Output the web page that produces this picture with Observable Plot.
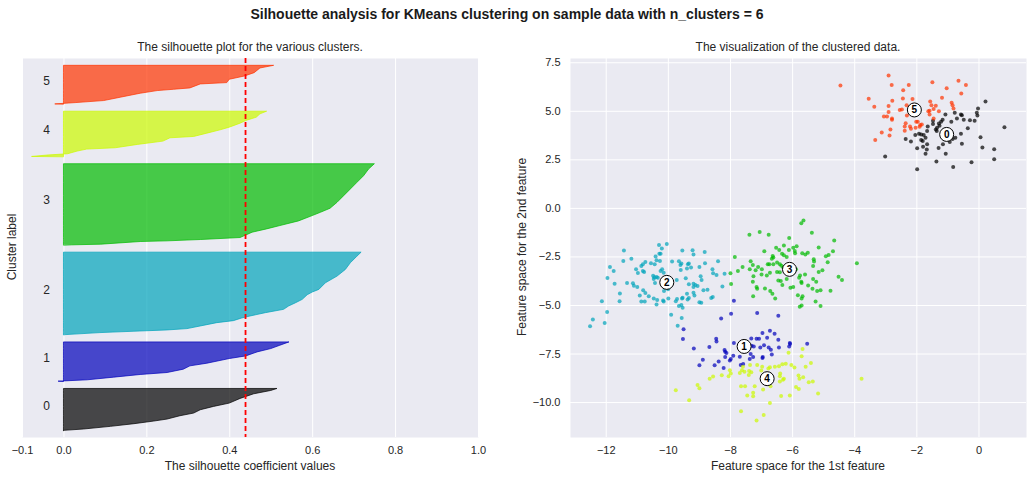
<!DOCTYPE html>
<html><head><meta charset="utf-8">
<script src="https://cdn.jsdelivr.net/npm/d3@7"></script>
<script src="https://cdn.jsdelivr.net/npm/@observablehq/plot@0.6"></script>
<style>
body{margin:0;background:#fff;font-family:"Liberation Sans",Arial,sans-serif;color:#262626}
#wrap{position:relative;width:1032px;height:478px;overflow:hidden}
.t{position:absolute;white-space:nowrap;transform:translate(-50%,-50%);line-height:1}
.r{transform:translate(-50%,-50%) rotate(-90deg)}
.p{position:absolute}
</style></head><body><div id="wrap"></div>
<script>
// ---------- data ----------
const clusterIds = [0, 1, 2, 3, 4, 5];
const clusterSizes = [64, 60, 125, 123, 69, 59];
const clusterColors = ["#000000", "#0000bb", "#00a4bb", "#00bb00", "#ccf900", "#ff3300"];
const silhouetteAvg = 0.438;

// sorted silhouette values per cluster, sampled at sample ranks within the cluster
const silRanks0 = [0,2,6,10,14,17,22,26,31,36,41,48,55,60,63];
const silVals0  = [0.0,0.048,0.113,0.17,0.218,0.25,0.281,0.314,0.33,0.362,0.40,0.426,0.459,0.50,0.515];
const silRanks1 = [0,2,6,10,13,18,23,27,34,38,44,49,54,59];
const silVals1  = [-0.012,0.057,0.121,0.185,0.25,0.289,0.305,0.346,0.40,0.44,0.467,0.50,0.522,0.544];
const silRanks2 = [0,3,5,7,9,13,18,21,25,28,33,38,43,48,53,60,64,68,78,88,98,108,118,124];
const silVals2  = [0.005,0.088,0.168,0.25,0.298,0.33,0.37,0.41,0.43,0.45,0.487,0.531,0.543,0.56,0.576,0.588,0.60,0.616,0.632,0.66,0.68,0.692,0.708,0.718];
const silRanks3 = [0,1,5,6,8,11,19,24,29,36,44,49,55,64,74,84,94,104,114,122];
const silVals3  = [0.02,0.09,0.185,0.25,0.33,0.426,0.455,0.49,0.522,0.567,0.6,0.62,0.643,0.66,0.676,0.692,0.708,0.724,0.736,0.75];
const silRanks4 = [0,2,4,8,11,13,18,23,28,30,35,40,44,50,54,59,64,68];
const silVals4  = [-0.076,-0.04,0.01,0.033,0.056,0.125,0.178,0.24,0.257,0.314,0.346,0.378,0.40,0.426,0.44,0.465,0.474,0.49];
const silRanks5 = [0,2,5,10,16,20,22,24,30,32,37,42,47,54,58];
const silVals5  = [-0.02,0.03,0.097,0.137,0.185,0.226,0.266,0.305,0.33,0.394,0.40,0.437,0.46,0.474,0.507];

const silXTicks = [-0.1, 0.0, 0.2, 0.4, 0.6, 0.8, 1.0];

// scatter points [feature1, feature2] per cluster
const pts0 = [[0.21,5.51],[-0.03,5.15],[-0.07,4.92],[-0.05,4.78],[-0.14,4.52],[-0.29,4.54],[-0.49,4.57],[-0.55,4.80],[-0.58,4.83],[-0.78,4.92],[-0.71,4.63],[-1.08,4.83],[-1.17,4.57],[-1.22,4.46],[-1.29,4.37],[-0.89,4.46],[-0.36,4.13],[-0.58,3.84],[-0.76,3.64],[-1.27,4.25],[-1.35,4.15],[-1.39,4.06],[-1.36,3.98],[-1.48,4.35],[-1.48,4.52],[-1.65,4.22],[-1.67,3.98],[-1.78,3.78],[-1.86,3.81],[-1.93,3.84],[-2.05,3.78],[-1.72,3.64],[-1.86,3.52],[-1.81,3.47],[-1.67,3.30],[-1.80,3.18],[-1.68,3.03],[-1.72,2.81],[-1.99,3.10],[-2.19,3.44],[-2.36,3.57],[-1.30,3.11],[-1.16,3.30],[-0.94,3.42],[-0.85,3.57],[-0.55,3.33],[-1.07,2.81],[0.05,3.67],[0.11,3.13],[0.49,3.04],[0.49,2.53],[0.82,4.18],[-0.24,2.38],[-0.83,2.13],[-1.37,2.42],[-1.99,2.02],[-3.02,2.67],[-1.18,3.86],[-0.91,3.98]];
const pts1 = [[-7.89,-4.76],[-7.14,-5.39],[-6.46,-5.53],[-7.98,-5.43],[-8.30,-5.67],[-9.51,-6.22],[-9.53,-6.73],[-9.18,-7.21],[-8.89,-7.79],[-9.00,-8.08],[-8.51,-8.08],[-8.38,-7.88],[-8.22,-8.22],[-8.68,-7.14],[-8.46,-6.71],[-8.45,-6.85],[-8.19,-7.29],[-8.17,-7.38],[-8.13,-7.45],[-8.17,-7.65],[-8.02,-7.83],[-7.99,-7.76],[-7.91,-7.59],[-7.70,-7.64],[-7.67,-8.07],[-7.59,-8.02],[-7.89,-6.93],[-7.35,-7.50],[-7.38,-7.76],[-7.27,-7.65],[-6.96,-7.65],[-6.97,-7.70],[-6.67,-7.53],[-6.70,-7.28],[-6.77,-7.16],[-7.04,-7.16],[-6.92,-7.05],[-7.25,-7.11],[-7.32,-7.08],[-7.33,-6.70],[-7.16,-6.71],[-7.08,-6.71],[-6.97,-6.42],[-6.82,-6.66],[-6.73,-6.30],[-6.58,-6.46],[-6.46,-6.76],[-6.44,-7.17],[-6.09,-6.93],[-6.11,-7.11],[-6.08,-6.98],[-5.53,-6.97],[-7.41,-7.11]];
const pts2 = [[-10.30,-1.88],[-10.05,-1.83],[-10.21,-2.07],[-11.43,-2.17],[-10.25,-2.33],[-10.29,-2.33],[-10.41,-2.48],[-10.38,-2.67],[-10.27,-2.71],[-9.55,-2.17],[-9.22,-2.16],[-9.19,-2.38],[-8.83,-2.24],[-11.45,-2.71],[-11.19,-2.59],[-10.74,-2.76],[-10.56,-2.83],[-10.82,-2.88],[-10.87,-2.97],[-10.44,-2.88],[-10.20,-3.14],[-10.25,-3.22],[-10.15,-3.31],[-11.04,-3.14],[-10.98,-3.33],[-10.82,-3.22],[-10.78,-3.28],[-11.88,-3.02],[-11.76,-3.22],[-11.96,-3.59],[-11.73,-3.88],[-11.33,-3.84],[-11.14,-3.86],[-11.11,-3.98],[-11.00,-4.05],[-10.49,-3.47],[-10.45,-3.55],[-10.38,-3.53],[-10.47,-3.64],[-10.34,-3.57],[-10.43,-3.84],[-10.81,-4.22],[-10.74,-4.36],[-10.63,-4.53],[-10.92,-4.48],[-10.47,-4.64],[-10.36,-4.72],[-10.17,-4.74],[-10.38,-4.95],[-10.87,-4.79],[-10.76,-4.79],[-11.56,-4.38],[-11.57,-4.78],[-12.14,-4.78],[-11.97,-5.34],[-12.43,-5.72],[-12.05,-5.90],[-12.52,-6.07],[-10.0,-4.64],[-10.14,-4.26],[-10.01,-4.17],[-9.88,-2.74],[-9.66,-2.72],[-9.61,-2.91],[-9.58,-2.84],[-9.37,-2.88],[-9.34,-2.84],[-9.60,-3.17],[-9.40,-3.09],[-9.27,-3.05],[-9.00,-3.02],[-8.82,-2.83],[-8.58,-3.14],[-8.56,-3.34],[-8.45,-3.43],[-8.40,-2.72],[-8.19,-3.36],[-9.73,-3.69],[-9.44,-3.60],[-9.34,-3.91],[-9.19,-3.88],[-9.13,-3.95],[-9.19,-4.05],[-9.06,-4.0],[-8.96,-3.50],[-8.93,-3.69],[-8.74,-4.19],[-8.87,-4.22],[-9.19,-4.34],[-9.16,-4.48],[-9.40,-4.40],[-9.34,-4.62],[-9.38,-4.69],[-9.56,-4.64],[-9.54,-4.60],[-9.72,-4.67],[-9.76,-4.78],[-9.58,-4.98],[-9.66,-5.03],[-9.54,-5.12],[-9.00,-4.84],[-8.94,-4.86],[-8.62,-4.62],[-8.57,-4.57],[-8.26,-4.02],[-9.91,-5.48],[-9.57,-5.64],[-9.70,-6.05],[-10.15,-4.79]];
const pts3 = [[-5.65,-0.62],[-5.72,-0.76],[-7.39,-1.36],[-7.06,-1.22],[-6.77,-1.36],[-6.11,-1.52],[-5.38,-1.26],[-4.66,-1.66],[-7.86,-2.5],[-6.91,-2.21],[-6.53,-2.03],[-6.43,-2.14],[-6.34,-2.33],[-6.28,-2.41],[-6.19,-2.5],[-6.12,-2.14],[-5.98,-2.03],[-5.87,-1.95],[-5.93,-2.19],[-5.92,-2.31],[-5.69,-2.31],[-5.59,-2.38],[-5.51,-2.29],[-5.16,-2.02],[-4.84,-2.40],[-4.93,-2.47],[-4.70,-2.21],[-6.64,-2.45],[-6.67,-2.59],[-6.62,-2.88],[-6.50,-2.79],[-6.75,-2.88],[-6.41,-2.88],[-6.36,-2.95],[-6.30,-3.05],[-7.35,-2.72],[-7.28,-2.91],[-7.61,-3.02],[-7.76,-3.22],[-8.0,-3.34],[-7.98,-3.90],[-7.38,-3.14],[-7.19,-3.19],[-7.11,-3.02],[-6.99,-3.14],[-6.83,-3.45],[-7.00,-3.40],[-7.26,-3.50],[-7.28,-3.78],[-7.16,-4.05],[-7.14,-4.14],[-6.89,-4.12],[-6.72,-4.26],[-6.65,-4.40],[-6.56,-4.64],[-7.27,-4.53],[-6.50,-3.28],[-6.41,-3.29],[-6.46,-3.71],[-6.38,-3.74],[-6.33,-3.95],[-6.19,-3.64],[-6.07,-4.09],[-5.98,-4.05],[-5.76,-3.45],[-5.79,-3.57],[-5.72,-3.78],[-5.71,-3.84],[-5.60,-3.40],[-5.50,-3.97],[-5.34,-3.64],[-5.24,-3.78],[-5.36,-4.14],[-5.32,-2.62],[-5.31,-2.74],[-5.34,-2.97],[-5.16,-3.28],[-5.04,-3.19],[-5.21,-4.26],[-5.10,-4.21],[-4.78,-4.24],[-4.52,-3.52],[-4.41,-3.69],[-3.93,-2.83],[-4.87,-2.78],[-5.83,-4.47],[-5.68,-4.53],[-5.71,-4.64],[-5.26,-4.79],[-5.71,-5.0],[-5.77,-5.07],[-5.10,-5.03],[-6.19,-3.16],[-5.98,-3.33],[-5.89,-3.14],[-6.73,-3.31],[-6.28,-1.91],[-6.62,-2.53],[-6.80,-2.88]];
const pts4 = [[-5.68,-7.24],[-6.13,-7.43],[-5.71,-7.62],[-5.41,-7.96],[-5.58,-8.15],[-5.94,-8.20],[-6.04,-8.07],[-6.22,-8.0],[-6.33,-8.03],[-6.44,-8.13],[-6.57,-8.15],[-6.73,-8.18],[-6.78,-8.24],[-6.98,-8.15],[-7.14,-8.07],[-7.37,-8.07],[-7.60,-8.15],[-7.70,-8.48],[-7.55,-8.42],[-7.40,-8.37],[-7.41,-8.58],[-7.63,-8.34],[-8.02,-8.34],[-7.99,-8.51],[-8.06,-8.65],[-8.28,-8.60],[-8.56,-8.66],[-8.67,-8.77],[-9.06,-9.09],[-9.00,-9.26],[-9.33,-9.88],[-7.66,-9.16],[-7.53,-9.16],[-7.22,-9.16],[-7.46,-9.64],[-7.27,-9.50],[-7.27,-9.67],[-6.95,-9.33],[-6.71,-9.16],[-6.73,-10.02],[-6.41,-8.92],[-6.41,-8.65],[-6.40,-8.51],[-6.28,-8.77],[-6.31,-8.82],[-6.37,-9.66],[-6.09,-9.64],[-5.81,-8.61],[-5.78,-8.77],[-5.66,-8.70],[-5.89,-9.20],[-5.80,-9.30],[-5.48,-8.96],[-5.35,-8.92],[-5.18,-9.54],[-3.78,-8.77],[-7.01,-8.35],[-7.33,-8.44],[-9.76,-9.37],[-7.66,-10.45],[-7.16,-10.93],[-6.93,-10.64]];
const pts5 = [[-4.46,6.33],[-2.91,6.84],[-2.81,6.36],[-2.26,6.36],[-2.44,6.09],[-1.50,6.50],[-0.66,6.58],[-0.42,6.36],[-1.04,6.19],[-0.57,5.92],[-3.55,5.65],[-2.79,5.54],[-2.45,5.66],[-2.14,5.63],[-1.19,5.70],[-3.37,5.24],[-2.91,5.27],[-2.33,5.31],[-2.48,5.09],[-2.55,5.07],[-1.53,5.31],[-1.39,5.29],[-0.88,5.44],[-0.85,5.31],[-0.82,5.15],[-1.57,5.51],[-2.91,4.97],[-3.06,4.73],[-2.96,4.73],[-2.80,4.63],[-2.80,4.56],[-2.32,4.78],[-1.63,5.0],[-1.59,5.03],[-1.46,5.12],[-1.29,5.0],[-1.59,4.83],[-1.46,4.63],[-2.02,4.46],[-1.97,4.46],[-2.36,4.39],[-1.89,4.29],[-1.84,4.32],[-2.39,4.22],[-2.22,4.22],[-1.91,4.20],[-2.85,4.06],[-3.13,3.91],[-2.39,4.0],[-2.19,4.10],[-2.88,3.76],[-3.34,3.52],[-2.04,4.15]];
const centerX = [-1.04, -7.56, -10.05, -6.10, -6.82, -2.08];
const centerY = [3.81, -7.11, -3.81, -3.14, -8.77, 5.07];

const featXTicks = [-12, -10, -8, -6, -4, -2, 0];
const featYTicks = [-10, -7.5, -5, -2.5, 0, 2.5, 5, 7.5];

// ---------- build ----------
const silRanks = [silRanks0, silRanks1, silRanks2, silRanks3, silRanks4, silRanks5];
const silVals = [silVals0, silVals1, silVals2, silVals3, silVals4, silVals5];
const allPts = [pts0, pts1, pts2, pts3, pts4, pts5];

let yLower = 10;
const silRows = [], labelRows = [];
clusterIds.forEach(i => {
  silRanks[i].forEach((r, k) => silRows.push({c: i, y: yLower + r, v: silVals[i][k]}));
  labelRows.push({c: i, y: yLower + 0.5 * clusterSizes[i]});
  yLower += clusterSizes[i] + 10;
});
const yMax = yLower; // len(X) + (n+1)*10

const bg = "#EAEAF2";
const fmt1 = d3.format(".1f");
const fmt0 = d3.format("d");
const fontStyle = {fontFamily: '"Liberation Sans", Arial, sans-serif', fontSize: "11px", color: "#262626", background: "transparent", overflow: "visible"};

const left = Plot.plot({
  width: 500, height: 438,
  marginLeft: 22, marginRight: 22, marginTop: 18, marginBottom: 41,
  style: fontStyle,
  x: {domain: [-0.1, 1.0], axis: null},
  y: {domain: [0, yMax], axis: null},
  marks: [
    Plot.frame({fill: bg, stroke: null}),
    Plot.gridX(silXTicks, {stroke: "white", strokeOpacity: 1, strokeWidth: 1}),
    ...clusterIds.map(i => Plot.areaX(silRows.filter(d => d.c === i), {
      x: "v", y: "y", fill: clusterColors[i], fillOpacity: 0.7,
      stroke: clusterColors[i], strokeOpacity: 0.7, strokeWidth: 1, curve: "linear"})),
    Plot.text(labelRows, {x: () => -0.05, y: "y", text: d => String(d.c), textAnchor: "start", lineAnchor: "bottom", fontSize: 12, fill: "#262626"}),
    Plot.ruleX([silhouetteAvg], {stroke: "red", strokeWidth: 1.8, strokeDasharray: "5,3"}),
    Plot.axisX(silXTicks, {tickSize: 0, tickPadding: 9, tickFormat: fmt1, label: null, fontSize: 11})
  ]
});

const scat = [];
clusterIds.forEach(i => allPts[i].forEach(p => scat.push({c: i, x: p[0], y: p[1]})));
const centers = clusterIds.map(i => ({c: i, x: centerX[i], y: centerY[i]}));

const right = Plot.plot({
  width: 516, height: 438,
  marginLeft: 54, marginRight: 6, marginTop: 18, marginBottom: 41,
  style: fontStyle,
  x: {domain: [-13.15, 1.53]},
  y: {domain: [-11.8, 7.72]},
  marks: [
    Plot.frame({fill: bg, stroke: null}),
    Plot.gridX(featXTicks, {stroke: "white", strokeOpacity: 1, strokeWidth: 1}),
    Plot.gridY(featYTicks, {stroke: "white", strokeOpacity: 1, strokeWidth: 1}),
    Plot.dot(scat, {x: "x", y: "y", r: 2, fill: d => clusterColors[d.c], fillOpacity: 0.7, stroke: null}),
    Plot.dot(centers, {x: "x", y: "y", r: 7, fill: "white", stroke: "black", strokeWidth: 1}),
    Plot.text(centers, {x: "x", y: "y", text: d => String(d.c), fontSize: 10, fontWeight: "bold", fill: "black"}),
    Plot.axisX(featXTicks, {tickSize: 0, tickPadding: 9, tickFormat: fmt0, label: null, fontSize: 11}),
    Plot.axisY(featYTicks, {tickSize: 0, tickPadding: 10, tickFormat: fmt1, label: null, fontSize: 11})
  ],
  color: {type: "identity"}
});

const wrap = document.getElementById("wrap");
left.classList.add("p"); left.style.left = "0px"; left.style.top = "40px";
right.classList.add("p"); right.style.left = "516px"; right.style.top = "40px";
wrap.appendChild(left); wrap.appendChild(right);

function addText(txt, x, y, size, extra) {
  const d = document.createElement("div");
  d.className = "t" + (extra && extra.rot ? " r" : "");
  d.textContent = txt;
  d.style.left = x + "px"; d.style.top = y + "px";
  d.style.fontSize = size + "px";
  if (extra && extra.bold) d.style.fontWeight = "bold";
  d.style.color = extra && extra.color ? extra.color : "#262626";
  wrap.appendChild(d);
}
addText("Silhouette analysis for KMeans clustering on sample data with n_clusters = 6", 507, 14, 14, {bold: true, color: "#1a1a1a"});
addText("The silhouette plot for the various clusters.", 250, 47, 12);
addText("The visualization of the clustered data.", 798, 47, 12);
addText("The silhouette coefficient values", 250, 466, 12);
addText("Feature space for the 1st feature", 798, 466, 12);
addText("Cluster label", 12, 247, 12, {rot: true});
addText("Feature space for the 2nd feature", 522, 247, 12, {rot: true});
</script></body></html>
